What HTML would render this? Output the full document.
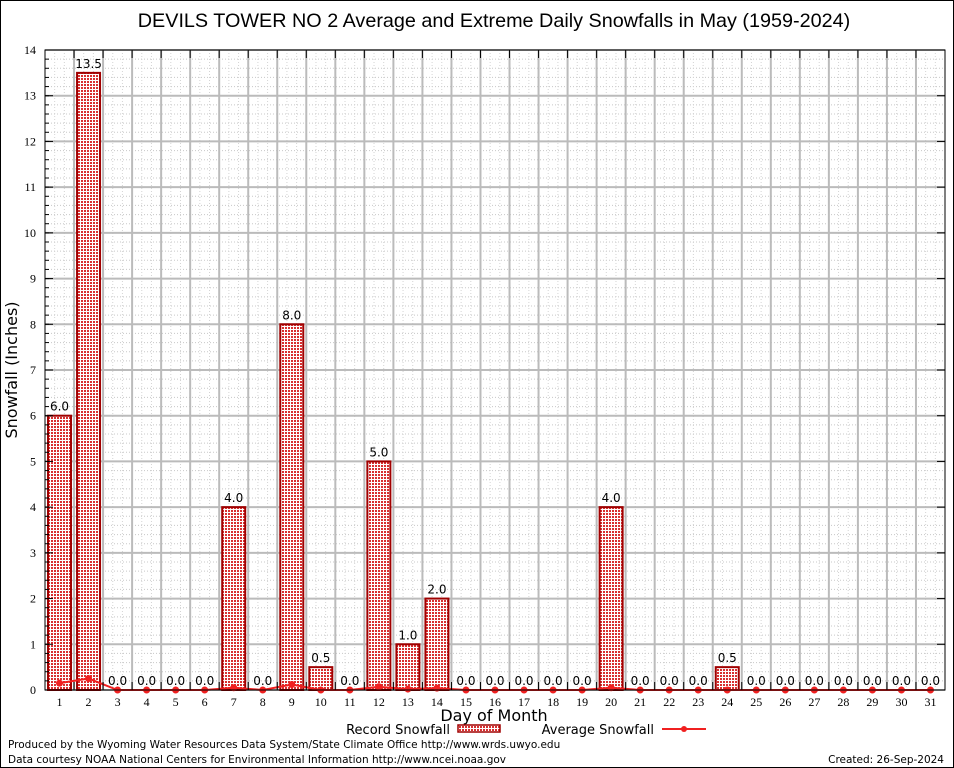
<!DOCTYPE html>
<html><head><meta charset="utf-8"><style>
body{margin:0;background:#fff;font-family:"DejaVu Sans","Liberation Sans",sans-serif}
svg{display:block}
</style></head><body>
<svg id="chart" width="954" height="768" xmlns="http://www.w3.org/2000/svg">
<defs>
<pattern id="chk" width="3" height="3" patternUnits="userSpaceOnUse">
<rect width="3" height="3" fill="#fff"/>
<rect width="2" height="2" fill="#d83030"/>
</pattern>
</defs>
<rect x="0.5" y="0.5" width="953" height="767" fill="#fff" stroke="#000"/>
<text x="494" y="27" font-size="19.8" text-anchor="middle" font-family="Liberation Sans, sans-serif">DEVILS TOWER NO 2 Average and Extreme Daily Snowfalls in May (1959-2024)</text>
<g id="grid"></g>
<g id="bars"></g>
<g id="avg"></g>
<g id="axes"></g>
<text transform="translate(17,370) rotate(-90)" font-size="16" text-anchor="middle">Snowfall (Inches)</text>
<text x="494" y="721" font-size="16" text-anchor="middle">Day of Month</text>
<g>
<text x="450" y="734" font-size="13" text-anchor="end">Record Snowfall</text>
<rect x="458" y="725" width="42" height="7" fill="url(#chk)" stroke="#a00000" stroke-width="1.5"/>
<text x="654" y="734" font-size="13" text-anchor="end">Average Snowfall</text>
<line x1="662" y1="729" x2="706" y2="729" stroke="#f02020" stroke-width="2"/>
<circle cx="684" cy="729" r="3" fill="#f02020"/>
</g>
<text x="8" y="748" font-size="10.5">Produced by the Wyoming Water Resources Data System/State Climate Office http://www.wrds.uwyo.edu</text>
<text x="8" y="763" font-size="10.5">Data courtesy NOAA National Centers for Environmental Information http://www.ncei.noaa.gov</text>
<text x="944" y="763" font-size="10.5" text-anchor="end">Created: 26-Sep-2024</text>
</svg>
<script>
const days=[1,2,3,4,5,6,7,8,9,10,11,12,13,14,15,16,17,18,19,20,21,22,23,24,25,26,27,28,29,30,31];
const records=[6.0,13.5,0,0,0,0,4.0,0,8.0,0.5,0,5.0,1.0,2.0,0,0,0,0,0,4.0,0,0,0,0.5,0,0,0,0,0,0,0];
const averages=[0.15,0.25,0,0,0,0,0.05,0,0.12,0,0,0.07,0.02,0.04,0,0,0,0,0,0.05,0,0,0,0,0,0,0,0,0,0,0];
const yTicks=[0,1,2,3,4,5,6,7,8,9,10,11,12,13,14];
const NS="http://www.w3.org/2000/svg";
const L=45,R=945,T=50,B=690,ymax=14;
const dw=(R-L)/31;
const xS=d=>L+dw*(d-0.5);
const yS=v=>B-(B-T)*v/ymax;
function mk(tag,attrs,parent){const e=document.createElementNS(NS,tag);for(const k in attrs)e.setAttribute(k,attrs[k]);parent.appendChild(e);return e;}
const grid=document.getElementById('grid'),bars=document.getElementById('bars'),avg=document.getElementById('avg'),axes=document.getElementById('axes');
for(let v=0;v<=ymax;v+=0.2){const y=yS(v);const l=mk('line',{x1:L,x2:R,y1:y,y2:y,stroke:'#c8c8c8','stroke-width':1,'stroke-dasharray':'1,2'},grid);

}
for(let i=0;i<31*3;i++){const x=L+dw*i/3;const l=mk('line',{x1:x,x2:x,y1:T,y2:B,stroke:'#d4d4d4','stroke-width':1,'stroke-dasharray':'1,2'},grid);

}
yTicks.forEach(v=>{const y=yS(v);const l=mk('line',{x1:L,x2:R,y1:y,y2:y,stroke:'#bbb','stroke-width':2},grid);


mk('line',{x1:L,x2:L+8,y1:y,y2:y,stroke:'#000'},axes);
mk('line',{x1:R,x2:R-8,y1:y,y2:y,stroke:'#000'},axes);
const t=mk('text',{x:L-9,y:y+4,'font-size':12,'text-anchor':'end','font-family':'Liberation Serif, serif'},axes);t.textContent=v;

});
for(let v=0;v<=ymax;v+=0.2){const y=yS(v);mk('line',{x1:L,x2:L+4,y1:y,y2:y,stroke:'#000'},axes);}
for(let i=1;i<31;i++){const x=L+dw*i;const l=mk('line',{x1:x,x2:x,y1:T,y2:B,stroke:'#bbb','stroke-width':2},grid);


mk('line',{x1:x,x2:x,y1:B,y2:B-8,stroke:'#000'},axes);mk('line',{x1:x,x2:x,y1:T,y2:T+8,stroke:'#000'},axes);}
mk('rect',{x:L,y:T,width:R-L,height:B-T,fill:'none',stroke:'#000','stroke-width':1},axes);
days.forEach((d,i)=>{const x=xS(d),v=records[i];
if(v>0){const r=mk('rect',{x:x-11.5,y:yS(v),width:23,height:B-yS(v),fill:'url(#chk)',stroke:'#a00000','stroke-width':2},bars);

}
const t=mk('text',{x:x,y:yS(v)-5,'font-size':12,'text-anchor':'middle'},bars);t.textContent=v.toFixed(1);


const lt=mk('text',{x:x,y:B+16,'font-size':12,'text-anchor':'middle','font-family':'Liberation Serif, serif'},axes);lt.textContent=d;

});
const pts=days.map((d,i)=>xS(d)+','+yS(averages[i])).join(' ');
const pl=mk('polyline',{points:pts,fill:'none',stroke:'#f02020','stroke-width':2},avg);


days.forEach((d,i)=>{const c=mk('circle',{cx:xS(d),cy:yS(averages[i]),r:3.5,fill:'#f02020'},avg);

});
</script>
</body></html>
